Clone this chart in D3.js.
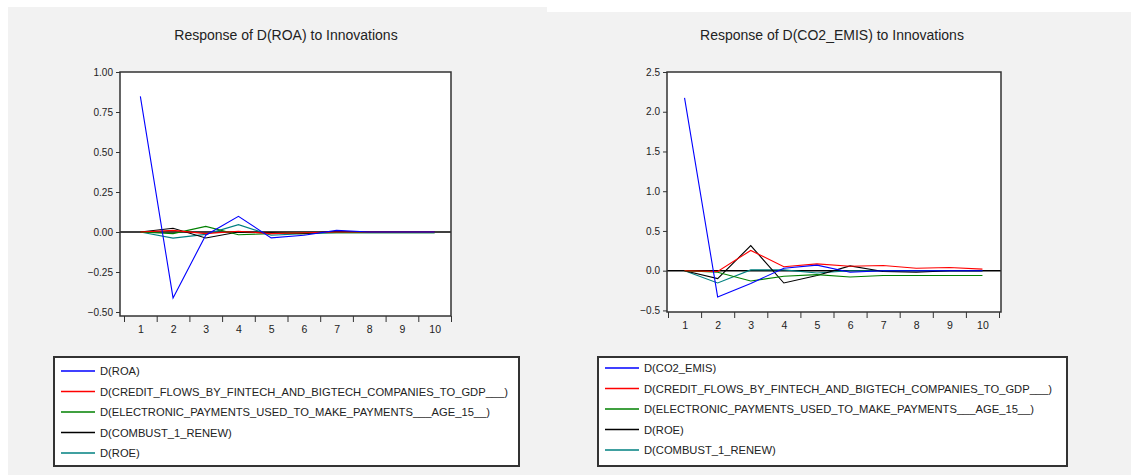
<!DOCTYPE html>
<html>
<head>
<meta charset="utf-8">
<script src="https://cdn.jsdelivr.net/npm/d3@7"></script>
<style>
  body { margin: 0; background: #fff; }
  text { font-family: "Liberation Sans", Arial, sans-serif; fill: #222; }
</style>
</head>
<body>
<div id="chart"></div>
<script>
var W = 1131, H = 475;

// periods on the x axis
var periods = [1, 2, 3, 4, 5, 6, 7, 8, 9, 10];

// left panel: response of D(ROA)
var roaTitle = "Response of D(ROA) to Innovations";
var roaNames = ["D(ROA)", "D(CREDIT_FLOWS_BY_FINTECH_AND_BIGTECH_COMPANIES_TO_GDP___)",
  "D(ELECTRONIC_PAYMENTS_USED_TO_MAKE_PAYMENTS___AGE_15__)", "D(COMBUST_1_RENEW)", "D(ROE)"];
var roaTicks = [-0.50, -0.25, 0.00, 0.25, 0.50, 0.75, 1.00];
var roaOwn    = [0.848, -0.412, -0.02, 0.098, -0.037, -0.02, 0.01, 0.0, 0.0, 0.0];
var roaCredit = [0.0, 0.01, -0.01, 0.005, -0.01, -0.005, 0.0, 0.0, 0.0, 0.0];
var roaElec   = [0.0, -0.01, 0.035, -0.017, -0.01, -0.005, -0.005, -0.005, -0.005, -0.005];
var roaComb   = [0.0, 0.023, -0.037, 0.0, -0.005, -0.01, 0.005, 0.0, 0.0, 0.0];
var roaRoe    = [0.0, -0.038, -0.015, 0.046, -0.02, -0.01, -0.005, -0.005, -0.005, -0.005];

// right panel: response of D(CO2_EMIS)
var co2Title = "Response of D(CO2_EMIS) to Innovations";
var co2Names = ["D(CO2_EMIS)", "D(CREDIT_FLOWS_BY_FINTECH_AND_BIGTECH_COMPANIES_TO_GDP___)",
  "D(ELECTRONIC_PAYMENTS_USED_TO_MAKE_PAYMENTS___AGE_15__)", "D(ROE)", "D(COMBUST_1_RENEW)"];
var co2Ticks = [-0.5, 0.0, 0.5, 1.0, 1.5, 2.0, 2.5];
var co2Own    = [2.175, -0.33, -0.16, 0.03, 0.07, -0.02, 0.0, 0.0, 0.0, 0.0];
var co2Credit = [0.0, -0.01, 0.255, 0.05, 0.085, 0.055, 0.065, 0.03, 0.04, 0.02];
var co2Elec   = [0.0, -0.02, -0.13, -0.07, -0.05, -0.08, -0.06, -0.06, -0.06, -0.06];
var co2Roe    = [0.0, -0.10, 0.315, -0.155, -0.06, 0.06, -0.01, -0.02, 0.0, 0.0];
var co2Comb   = [0.0, -0.155, 0.01, 0.01, -0.03, 0.0, 0.0, 0.0, 0.0, 0.0];

var colors = ["#0000ff", "#ff0000", "#008000", "#000000", "#008080"];

var svg = d3.select("#chart").append("svg")
  .attr("width", W)
  .attr("height", H);

// panel backgrounds
svg.append("rect").attr("x", 8).attr("y", 7).attr("width", 539).attr("height", H - 7).attr("fill", "#f2f2f2");
svg.append("rect").attr("x", 547).attr("y", 12).attr("width", W - 547).attr("height", H - 12).attr("fill", "#f2f2f2");

function drawPanel(p) {
  var g = svg.append("g");

  var x = d3.scaleLinear().domain([0.5, 10.5]).range([p.x0, p.x1]);
  var y = d3.scaleLinear().domain(p.yDomain).range([p.bottom, p.top]);

  g.append("text")
    .attr("x", p.titleX)
    .attr("y", 40)
    .attr("text-anchor", "middle")
    .style("font-size", "14px")
    .text(p.title);

  g.append("rect")
    .attr("x", p.left)
    .attr("y", p.top)
    .attr("width", p.right - p.left)
    .attr("height", p.bottom - p.top)
    .attr("fill", "#fff");

  // y axis
  var yAxis = g.append("g")
    .attr("transform", "translate(" + p.left + ",0)")
    .call(d3.axisLeft(y).tickValues(p.ticks).tickSize(4).tickPadding(3).tickFormat(d3.format(p.fmt)));
  yAxis.select(".domain").remove();
  yAxis.selectAll("line").attr("stroke", "#333");
  yAxis.selectAll("text").style("font-size", "10px").attr("fill", "#222").style("font-family", null);

  // x axis: marks between periods, labels at the periods
  var xMarks = g.append("g")
    .attr("transform", "translate(0," + p.bottom + ")")
    .call(d3.axisBottom(x).tickValues(d3.range(0.5, 11, 1)).tickSize(6).tickFormat(""));
  xMarks.select(".domain").remove();
  xMarks.selectAll("line").attr("stroke", "#333");

  var xLabels = g.append("g")
    .attr("transform", "translate(0," + p.bottom + ")")
    .call(d3.axisBottom(x).tickValues(periods).tickSize(0).tickPadding(10).tickFormat(d3.format("d")));
  xLabels.select(".domain").remove();
  xLabels.selectAll("text").style("font-size", "10.5px").attr("fill", "#222").style("font-family", null);

  // zero line
  g.append("line")
    .attr("x1", p.left).attr("x2", p.right)
    .attr("y1", y(0)).attr("y2", y(0))
    .attr("stroke", "#000")
    .attr("stroke-width", 1.5);

  var line = d3.line()
    .x(function(d, i) { return x(periods[i]); })
    .y(function(d) { return y(d); });

  // draw back to front so the own response is on top
  for (var k = p.series.length - 1; k >= 0; k--) {
    g.append("path")
      .datum(p.series[k])
      .attr("fill", "none")
      .attr("stroke", colors[k])
      .attr("stroke-width", 1.1)
      .attr("d", line);
  }

  g.append("rect")
    .attr("x", p.left)
    .attr("y", p.top)
    .attr("width", p.right - p.left)
    .attr("height", p.bottom - p.top)
    .attr("fill", "none")
    .attr("stroke", "#333")
    .attr("stroke-width", 1.5);

  // legend
  var lg = g.append("g");
  lg.append("rect")
    .attr("x", p.lx)
    .attr("y", 357)
    .attr("width", p.lw)
    .attr("height", 109)
    .attr("fill", "#fff")
    .attr("stroke", "#333")
    .attr("stroke-width", 2);

  p.names.forEach(function(name, i) {
    var ly = p.ly0 + i * 20.5;
    lg.append("line")
      .attr("x1", p.lx + 7).attr("x2", p.lx + 41)
      .attr("y1", ly).attr("y2", ly)
      .attr("stroke", colors[i])
      .attr("stroke-width", 1.5);
    lg.append("text")
      .attr("x", p.lx + 46)
      .attr("y", ly + 4)
      .style("font-size", "11.2px")
      .text(name);
  });
}

drawPanel({
  title: roaTitle, titleX: 286,
  left: 120, right: 451, top: 72, bottom: 316,
  x0: 124, x1: 451,
  yDomain: [-0.525, 1.0], ticks: roaTicks, fmt: ".2f",
  series: [roaOwn, roaCredit, roaElec, roaComb, roaRoe],
  names: roaNames,
  lx: 54, lw: 465, ly0: 371
});

drawPanel({
  title: co2Title, titleX: 832,
  left: 667, right: 1001, top: 72, bottom: 312,
  x0: 668, x1: 999,
  yDomain: [-0.52, 2.5], ticks: co2Ticks, fmt: ".1f",
  series: [co2Own, co2Credit, co2Elec, co2Roe, co2Comb],
  names: co2Names,
  lx: 598, lw: 469, ly0: 368
});
</script>
</body>
</html>
